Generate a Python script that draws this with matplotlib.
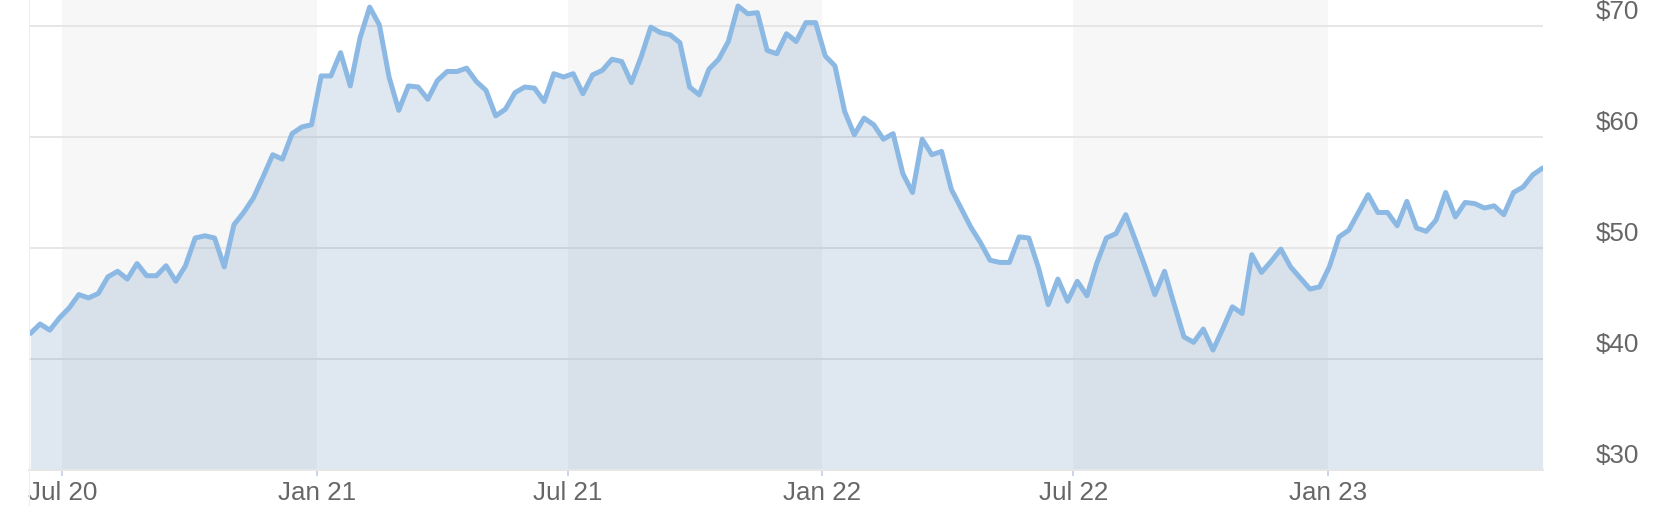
import matplotlib
matplotlib.use("Agg")
import matplotlib.pyplot as plt
import matplotlib.dates as mdates
import matplotlib.transforms as mtransforms
from matplotlib.lines import Line2D
import pandas as pd

# ---------------- data ----------------
start_date = "2020-06-08"
prices = [
    42.3, 43.15, 42.6, 43.7, 44.6, 45.8, 45.5, 45.9, 47.4, 47.9,
    47.2, 48.6, 47.5, 47.5, 48.4, 47.0, 48.4, 50.9, 51.1, 50.9,
    48.3, 52.1, 53.2, 54.5, 56.4, 58.4, 58.0, 60.3, 60.9, 61.1,
    65.5, 65.5, 67.6, 64.6, 68.9, 71.7, 70.1, 65.4, 62.4, 64.6,
    64.5, 63.4, 65.1, 65.9, 65.9, 66.2, 65.0, 64.2, 61.9, 62.5,
    64.0, 64.5, 64.4, 63.2, 65.7, 65.4, 65.7, 63.9, 65.6, 66.0,
    67.0, 66.8, 64.9, 67.2, 69.9, 69.4, 69.2, 68.5, 64.5, 63.8,
    66.1, 67.0, 68.6, 71.8, 71.1, 71.2, 67.8, 67.5, 69.3, 68.6,
    70.3, 70.3, 67.3, 66.4, 62.3, 60.2, 61.7, 61.1, 59.8, 60.3,
    56.7, 55.0, 59.8, 58.4, 58.7, 55.3, 53.6, 51.9, 50.5, 48.9,
    48.7, 48.7, 51.0, 50.9, 48.2, 44.9, 47.2, 45.2, 47.0, 45.7,
    48.6, 50.9, 51.3, 53.0, 50.7, 48.3, 45.8, 47.9, 44.9, 42.0,
    41.5, 42.7, 40.8, 42.7, 44.7, 44.1, 49.4, 47.8, 48.8, 49.9,
    48.3, 47.3, 46.3, 46.5, 48.3, 51.0, 51.6, 53.2, 54.8, 53.2,
    53.2, 52.0, 54.2, 51.8, 51.5, 52.5, 55.0, 52.8, 54.1, 54.0,
    53.6, 53.8, 53.0, 55.0, 55.5, 56.6, 57.2,
]
dates = pd.date_range(start_date, periods=len(prices), freq="7D")

x_tick_dates = ["2020-07-01", "2021-01-01", "2021-07-01",
                "2022-01-01", "2022-07-01", "2023-01-01"]
x_tick_labels = ["Jul 20", "Jan 21", "Jul 21", "Jan 22", "Jul 22", "Jan 23"]

band_ranges = [("2020-07-01", "2021-01-01"),
               ("2021-07-01", "2022-01-01"),
               ("2022-07-01", "2023-01-01")]

y_ticks = [30, 40, 50, 60, 70]
y_tick_labels = ["$30", "$40", "$50", "$60", "$70"]

# ---------------- figure ----------------
W, H = 1678, 521
fig = plt.figure(figsize=(W / 100, H / 100), dpi=100)
left_px, right_px, bottom_px = 29, 1543, 470
ax = fig.add_axes([left_px / W, (H - bottom_px) / H,
                   (right_px - left_px) / W, bottom_px / H])

xd = mdates.date2num(dates)
ax.set_xlim(xd[0] - 1.0, xd[-1] + 0.3)
ax.set_ylim(30, 72.34)

FONT = "Liberation Sans"
FS = 18.7
TXT = "#666666"

# plot bands
for a, b in band_ranges:
    ax.axvspan(mdates.date2num(pd.Timestamp(a)), mdates.date2num(pd.Timestamp(b)),
               color="#f7f7f7", lw=0, zorder=0)

# grid lines
for v in y_ticks[1:]:
    ax.axhline(v, color="#e6e6e6", lw=1.44, zorder=1)

# area + line
ax.fill_between(xd, prices, 30, color="#5f8cb9", alpha=0.2, lw=0, zorder=2)
ax.plot(xd, prices, color="#8cb9e4", lw=3.6, solid_joinstyle="round",
        solid_capstyle="round", zorder=3)

# axis styling
for s in ["top", "right", "left"]:
    ax.spines[s].set_visible(False)
ax.spines["bottom"].set_color("#e6e6e6")
ax.spines["bottom"].set_linewidth(1.44)
ax.spines["bottom"].set_zorder(4)
ax.set_yticks([])
ax.set_facecolor("none")

tick_x = [mdates.date2num(pd.Timestamp(d)) for d in x_tick_dates]
ax.set_xticks(tick_x)
ax.set_xticklabels([])
ax.tick_params(axis="x", length=4.3, width=1.44, color="#ccd6eb", direction="out")

xtrans = mtransforms.blended_transform_factory(ax.transData, ax.transAxes)
for tx, lab in zip(tick_x, x_tick_labels):
    ax.text(tx, -30 / bottom_px, lab, transform=xtrans, ha="center", va="baseline",
            fontsize=FS, color=TXT, family=FONT, clip_on=False)

ytrans = mtransforms.blended_transform_factory(ax.transAxes, ax.transData)
ytrans = mtransforms.offset_copy(ytrans, fig=fig, x=0, y=7, units="dots")
lab_x = (1596 - left_px) / (right_px - left_px)
for v, lab in zip(y_ticks, y_tick_labels):
    ax.text(lab_x, v, lab, transform=ytrans, ha="left", va="baseline",
            fontsize=FS, color=TXT, family=FONT, clip_on=False)

# thin left border line
fig.add_artist(Line2D([28.5 / W, 28.5 / W], [1 - 505 / H, 1.0],
                      color="#efefef", lw=0.8, transform=fig.transFigure))

fig.savefig("out.png", dpi=100)
